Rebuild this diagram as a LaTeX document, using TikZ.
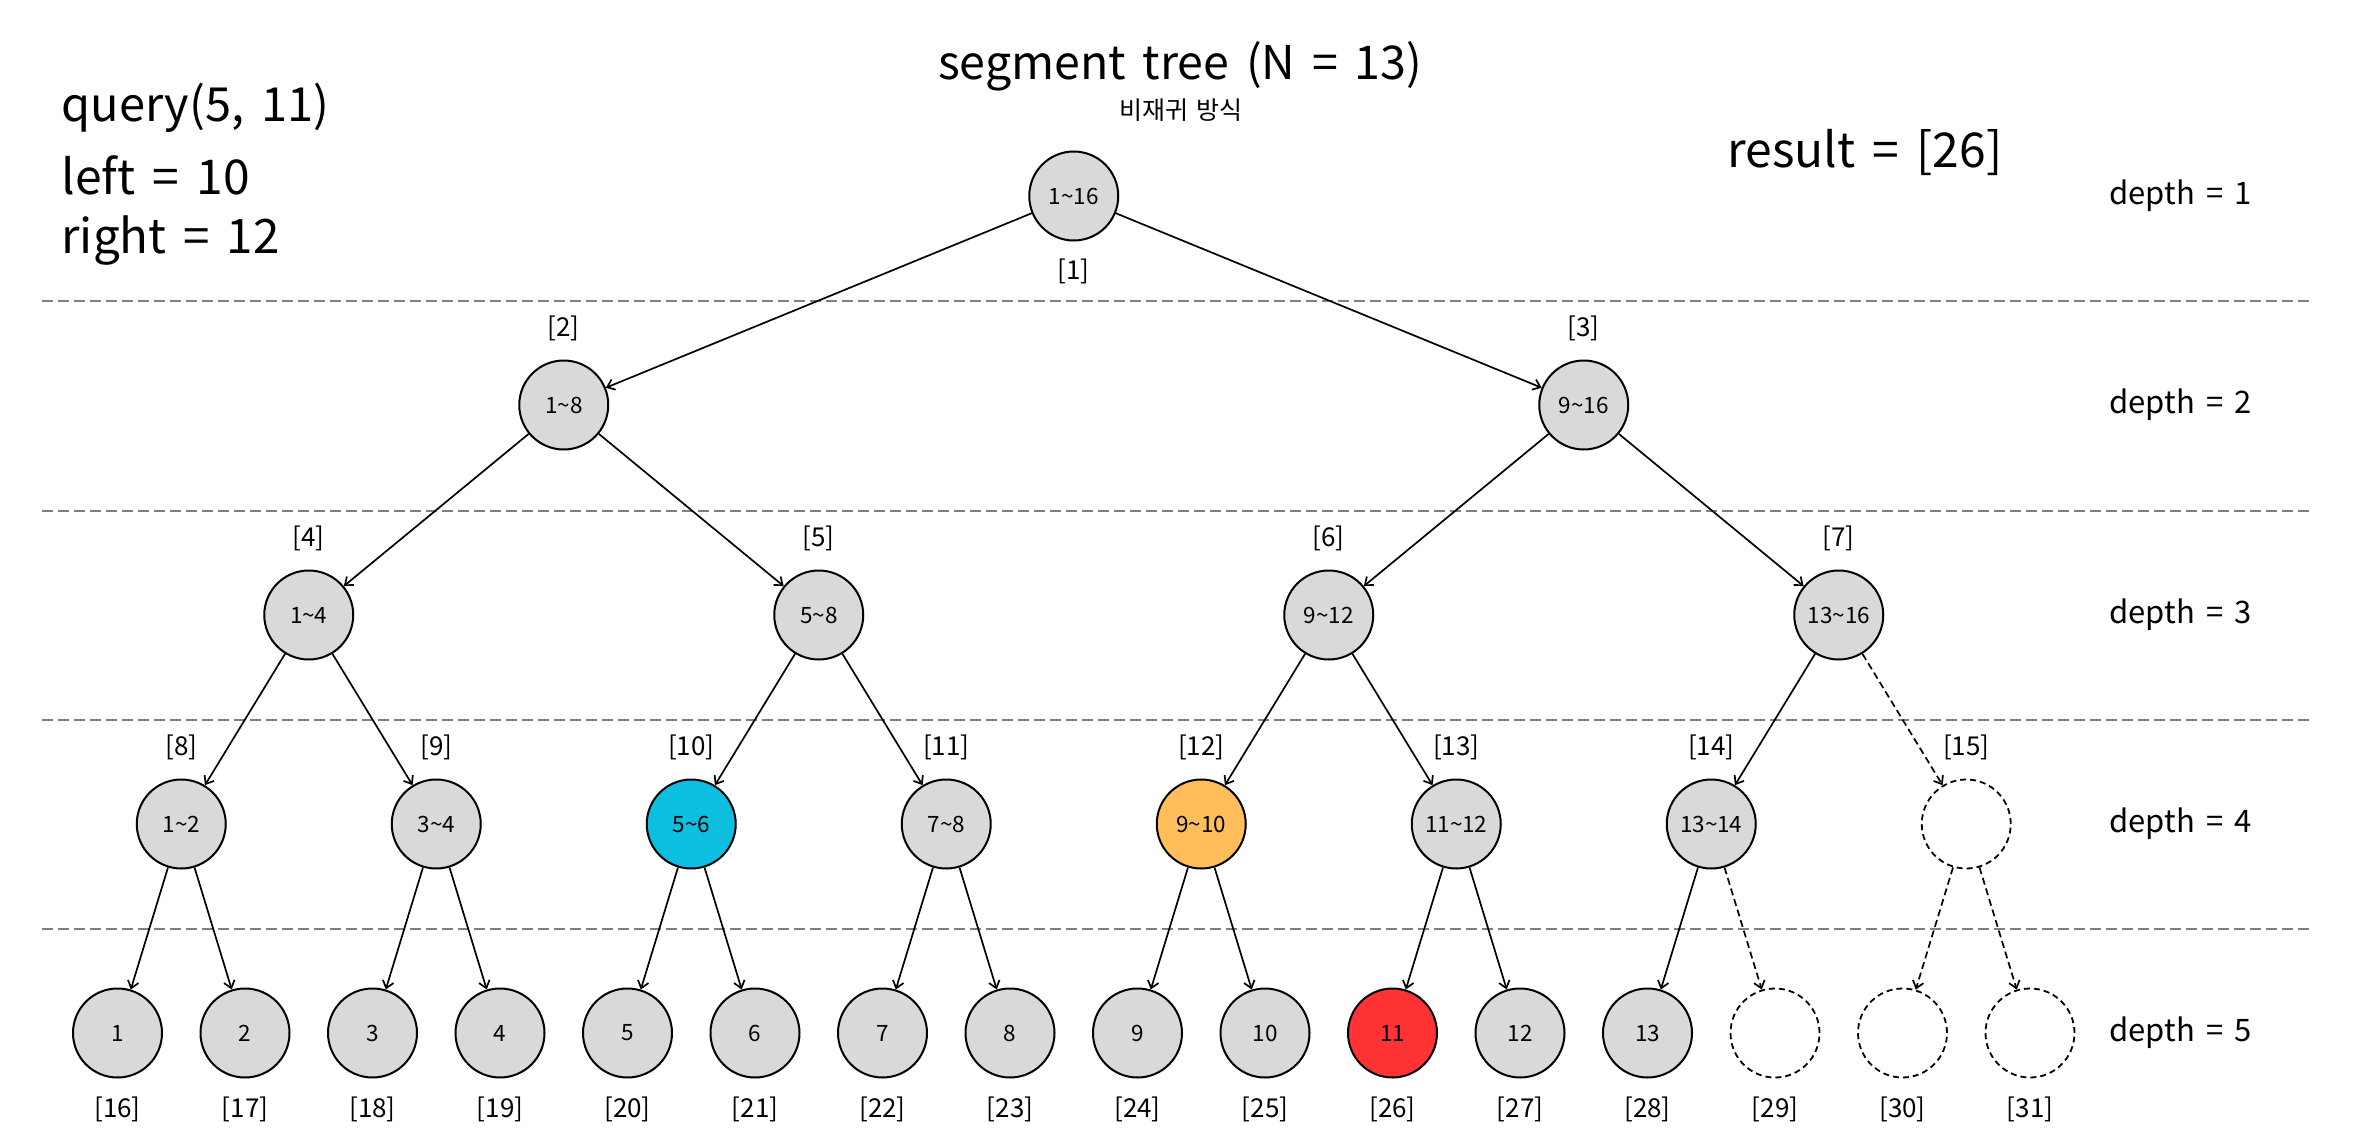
\documentclass[tikz,border=0pt]{standalone}
\usepackage{fontspec}
\setmainfont[WordSpace=1.6]{Noto Sans CJK KR}
\usetikzlibrary{arrows.meta}
\definecolor{nodegray}{RGB}{217,217,217}
\definecolor{sepgray}{RGB}{128,128,128}
\definecolor{hlcyan}{RGB}{12,190,224}
\definecolor{hlorange}{RGB}{255,190,90}
\definecolor{hlred}{RGB}{255,51,51}
\newcommand\tl{\textasciitilde}
\begin{document}
\begin{tikzpicture}[x=1pt,y=-1pt,
  tn/.style={circle, draw, line width=2pt, fill=nodegray, minimum size=89pt, inner sep=0pt, font=\fontsize{22.5}{22.5}\selectfont},
  en/.style={circle, draw, line width=1.8pt, dash pattern=on 6pt off 4pt, fill=white, minimum size=89pt, inner sep=0pt},
  edge/.style={-{Straight Barb[length=7pt,width=11pt]}, line width=1.7pt},
  dedge/.style={edge, dash pattern=on 7pt off 4pt},
  idx/.style={font=\fontsize{26}{26}\selectfont},
  depthlbl/.style={anchor=west, font=\fontsize{31}{31}\selectfont},
  big/.style={font=\fontsize{48}{48}\selectfont},
  sep/.style={draw=sepgray, line width=2pt, dash pattern=on 11pt off 5pt}]
\fill[white] (0,0) rectangle (2362,1148);
\useasboundingbox (0,0) rectangle (2362,1148);

% separators
\foreach \yy/\nm in {301/s1,511/s2,720/s3,929/s4}{
  \coordinate (\nm a) at (42,\yy);
  \coordinate (\nm b) at (2310,\yy);
  \draw[sep] (\nm a) -- (\nm b);
}

% depth 1
\node[tn] (n1) at (1073.75,196) {1\tl16};
% depth 2
\node[tn] (n2) at (563.75,405) {1\tl8};
\node[tn] (n3) at (1583.75,405) {9\tl16};
% depth 3
\node[tn] (n4) at (308.75,615) {1\tl4};
\node[tn] (n5) at (818.75,615) {5\tl8};
\node[tn] (n6) at (1328.75,615) {9\tl12};
\node[tn] (n7) at (1838.75,615) {13\tl16};
% depth 4
\node[tn] (n8) at (181.25,824) {1\tl2};
\node[tn] (n9) at (436.25,824) {3\tl4};
\node[tn, fill=hlcyan] (n10) at (691.25,824) {5\tl6};
\node[tn] (n11) at (946.25,824) {7\tl8};
\node[tn, fill=hlorange] (n12) at (1201.25,824) {9\tl10};
\node[tn] (n13) at (1456.25,824) {11\tl12};
\node[tn] (n14) at (1711.25,824) {13\tl14};
\node[en] (n15) at (1966.25,824) {};
% depth 5
\node[tn] (n16) at (117.5,1033) {1};
\node[tn] (n17) at (245,1033) {2};
\node[tn] (n18) at (372.5,1033) {3};
\node[tn] (n19) at (500,1033) {4};
\node[tn] (n20) at (627.5,1033) {5};
\node[tn] (n21) at (755,1033) {6};
\node[tn] (n22) at (882.5,1033) {7};
\node[tn] (n23) at (1010,1033) {8};
\node[tn] (n24) at (1137.5,1033) {9};
\node[tn] (n25) at (1265,1033) {10};
\node[tn, fill=hlred] (n26) at (1392.5,1033) {11};
\node[tn] (n27) at (1520,1033) {12};
\node[tn] (n28) at (1647.5,1033) {13};
\node[en] (n29) at (1775,1033) {};
\node[en] (n30) at (1902.5,1033) {};
\node[en] (n31) at (2030,1033) {};

% index labels
\node[idx] (i1) at (1073.75,271) {[1]};
\node[idx] (i2) at (563.75,328) {[2]};
\node[idx] (i3) at (1583.75,328) {[3]};
\node[idx] (i4) at (308.75,538) {[4]};
\node[idx] (i5) at (818.75,538) {[5]};
\node[idx] (i6) at (1328.75,538) {[6]};
\node[idx] (i7) at (1838.75,538) {[7]};
\node[idx] (i8) at (181.25,747) {[8]};
\node[idx] (i9) at (436.25,747) {[9]};
\node[idx] (i10) at (691.25,747) {[10]};
\node[idx] (i11) at (946.25,747) {[11]};
\node[idx] (i12) at (1201.25,747) {[12]};
\node[idx] (i13) at (1456.25,747) {[13]};
\node[idx] (i14) at (1711.25,747) {[14]};
\node[idx] (i15) at (1966.25,747) {[15]};
\foreach \k in {16,...,31}{
  \node[idx] (i\k) at ([yshift=-76pt]n\k.center) {[\k]};
}

% edges
\foreach \p/\c in {1/2,1/3,2/4,2/5,3/6,3/7,4/8,4/9,5/10,5/11,6/12,6/13,7/14,
  8/16,8/17,9/18,9/19,10/20,10/21,11/22,11/23,12/24,12/25,13/26,13/27,14/28}{
  \draw[edge] (n\p) -- (n\c);
}
\foreach \p/\c in {7/15,14/29,15/30,15/31}{
  \draw[dedge] (n\p) -- (n\c);
}

% depth labels
\node[depthlbl] (d1) at (2106,196) {depth = 1};
\node[depthlbl] (d2) at (2106,405) {depth = 2};
\node[depthlbl] (d3) at (2106,615) {depth = 3};
\node[depthlbl] (d4) at (2106,824) {depth = 4};
\node[depthlbl] (d5) at (2106,1033) {depth = 5};

% texts
\node[font=\fontsize{46.5}{46.5}\selectfont] (title) at (1180,66) {segment tree (N = 13)};
\node[font=\fontsize{25}{25}\selectfont] (sub) at (1181,110) {비재귀 방식};
\node[font=\fontsize{47}{47}\selectfont, anchor=west] (q) at (58,108) {query(5, 11)};
\node[big, anchor=west] (l) at (58,175) {left = 10};
\node[font=\fontsize{47.5}{47.5}\selectfont, anchor=west] (r) at (58,241) {right = 12};
\node[big, anchor=west] (res) at (1724,152) {result = [26]};
\end{tikzpicture}
\end{document}
